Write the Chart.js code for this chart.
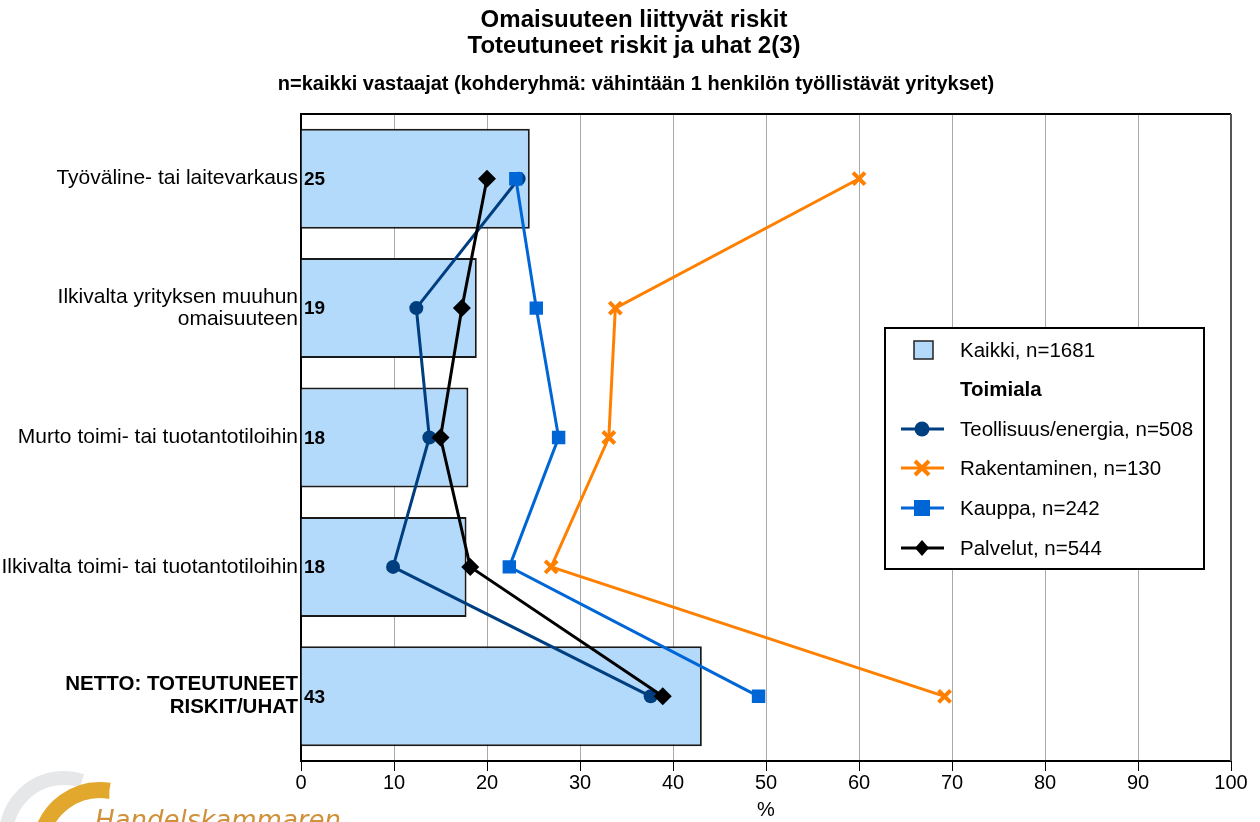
<!DOCTYPE html>
<html>
<head>
<meta charset="utf-8">
<script src="https://cdn.jsdelivr.net/npm/chart.js@4/dist/chart.umd.min.js"></script>
<style>
  html, body { margin: 0; padding: 0; background: #fff; }
  #wrap { width: 1260px; height: 822px; }
</style>
</head>
<body>
<div id="wrap"><canvas id="riskChart" width="1260" height="822"></canvas></div>
<script>
const titleLines = ["Omaisuuteen liittyvät riskit", "Toteutuneet riskit ja uhat 2(3)"];
const subtitleText = "n=kaikki vastaajat (kohderyhmä: vähintään 1 henkilön työllistävät yritykset)";

const categories = [
  "Työväline- tai laitevarkaus",
  ["Ilkivalta yrityksen muuhun", "omaisuuteen"],
  "Murto toimi- tai tuotantotiloihin",
  "Ilkivalta toimi- tai tuotantotiloihin",
  ["NETTO: TOTEUTUNEET", "RISKIT/UHAT"]
];

const kaikki = [24.6, 18.9, 18.0, 17.8, 43.1];
const teollisuus = [23.4, 12.4, 13.8, 9.9, 37.6];
const rakentaminen = [60.0, 33.8, 33.1, 26.9, 69.2];
const kauppa = [23.1, 25.3, 27.7, 22.4, 49.2];
const palvelut = [20.0, 17.3, 15.0, 18.2, 38.9];

const xTicks = [0, 10, 20, 30, 40, 50, 60, 70, 80, 90, 100];

const colors = {
  bar: "#b3d9fb",
  teollisuus: "#003f7f",
  rakentaminen: "#ff8000",
  kauppa: "#0066d6",
  palvelut: "#000000"
};

const legendItems = [
  { label: "Kaikki, n=1681", type: "box" },
  { label: "Toimiala", type: "heading" },
  { label: "Teollisuus/energia, n=508", type: "circle", color: colors.teollisuus },
  { label: "Rakentaminen, n=130", type: "cross", color: colors.rakentaminen },
  { label: "Kauppa, n=242", type: "square", color: colors.kauppa },
  { label: "Palvelut, n=544", type: "diamond", color: colors.palvelut }
];

const FONT = "'Liberation Sans', Arial, sans-serif";
Chart.defaults.font.family = FONT;
Chart.defaults.color = "#000";

function drawMarker(ctx, type, color, x, y) {
  ctx.save();
  ctx.fillStyle = color;
  ctx.strokeStyle = color;
  if (type === "circle") {
    ctx.beginPath();
    ctx.arc(x, y, 7.5, 0, Math.PI * 2);
    ctx.fill();
  } else if (type === "cross") {
    ctx.lineWidth = 4;
    ctx.beginPath();
    ctx.moveTo(x - 7, y - 7); ctx.lineTo(x + 7, y + 7);
    ctx.moveTo(x + 7, y - 7); ctx.lineTo(x - 7, y + 7);
    ctx.stroke();
  } else if (type === "square") {
    ctx.fillRect(x - 8, y - 8, 16, 16);
  } else if (type === "diamond") {
    ctx.beginPath();
    ctx.moveTo(x, y - 8); ctx.lineTo(x + 7, y);
    ctx.lineTo(x, y + 8); ctx.lineTo(x - 7, y);
    ctx.closePath();
    ctx.fill();
  }
  ctx.restore();
}

const extrasPlugin = {
  id: "extras",
  afterDatasetsDraw(chart) {
    const ctx = chart.ctx;
    const area = chart.chartArea;
    const xScale = chart.scales.x;
    const yScale = chart.scales.y;

    // frame top + right
    ctx.save();
    ctx.strokeStyle = "#000";
    ctx.lineWidth = 2;
    ctx.beginPath();
    ctx.moveTo(area.left, area.top);
    ctx.lineTo(area.right, area.top);
    ctx.stroke();
    ctx.strokeStyle = "#555";
    ctx.beginPath();
    ctx.moveTo(area.right, area.top);
    ctx.lineTo(area.right, area.bottom);
    ctx.stroke();
    ctx.restore();

    // bar value labels
    ctx.save();
    ctx.font = "bold 19px " + FONT;
    ctx.fillStyle = "#000";
    ctx.textAlign = "left";
    ctx.textBaseline = "middle";
    kaikki.forEach((v, i) => {
      ctx.fillText(String(Math.round(v)), xScale.getPixelForValue(0) + 3, yScale.getPixelForValue(i) + 1);
    });
    ctx.restore();
  },
  afterDraw(chart) {
    const ctx = chart.ctx;

    // titles
    ctx.save();
    ctx.fillStyle = "#000";
    ctx.textAlign = "center";
    ctx.textBaseline = "middle";
    ctx.font = "bold 24px " + FONT;
    ctx.fillText(titleLines[0], 634, 20);
    ctx.fillText(titleLines[1], 634, 46);
    ctx.font = "bold 20px " + FONT;
    ctx.fillText(subtitleText, 636, 84);
    ctx.restore();

    // legend box
    const lx = 885, ly = 328, lw = 319, lh = 241;
    ctx.save();
    ctx.fillStyle = "#fff";
    ctx.fillRect(lx, ly, lw, lh);
    ctx.strokeStyle = "#000";
    ctx.lineWidth = 2;
    ctx.strokeRect(lx, ly, lw, lh);

    const rows = [350, 389, 429, 468, 508, 548];
    ctx.textBaseline = "middle";
    ctx.textAlign = "left";
    legendItems.forEach((item, i) => {
      const y = rows[i];
      ctx.font = (item.type === "heading" ? "bold " : "") + "20.5px " + FONT;
      ctx.fillStyle = "#000";
      ctx.fillText(item.label, 960, y + 1);
      if (item.type === "box") {
        ctx.fillStyle = colors.bar;
        ctx.fillRect(914, y - 9, 19, 18);
        ctx.strokeStyle = "#222";
        ctx.lineWidth = 1.5;
        ctx.strokeRect(914, y - 9, 19, 18);
      } else if (item.type !== "heading") {
        ctx.strokeStyle = item.color;
        ctx.lineWidth = 3;
        ctx.beginPath();
        ctx.moveTo(901, y);
        ctx.lineTo(944, y);
        ctx.stroke();
        drawMarker(ctx, item.type, item.color, 922, y);
      }
    });
    ctx.restore();

    // logo
    ctx.save();
    ctx.lineWidth = 14;
    ctx.strokeStyle = "#e6e7e9";
    ctx.beginPath();
    ctx.arc(64, 836, 58, Math.PI * 1.0, Math.PI * 1.6);
    ctx.stroke();
    ctx.strokeStyle = "#e2a82e";
    ctx.lineWidth = 16;
    ctx.beginPath();
    ctx.arc(100, 850, 60, Math.PI * 1.05, Math.PI * 1.55);
    ctx.stroke();
    ctx.fillStyle = "#d0913a";
    ctx.font = "italic 26px 'DejaVu Sans', sans-serif";
    ctx.textBaseline = "alphabetic";
    ctx.fillText("Handelskammaren", 95, 829);
    ctx.restore();
  }
};

const ctx = document.getElementById("riskChart");

new Chart(ctx, {
  type: "bar",
  data: {
    labels: categories,
    datasets: [
      {
        type: "line",
        label: "Palvelut, n=544",
        data: palvelut,
        borderColor: colors.palvelut,
        backgroundColor: colors.palvelut,
        borderWidth: 3,
        pointStyle: "rectRot",
        pointRadius: 9,
        pointBorderWidth: 0,
        tension: 0
      },
      {
        type: "line",
        label: "Kauppa, n=242",
        data: kauppa,
        borderColor: colors.kauppa,
        backgroundColor: colors.kauppa,
        borderWidth: 3,
        pointStyle: "rect",
        pointRadius: 9.5,
        pointBorderWidth: 0,
        tension: 0
      },
      {
        type: "line",
        label: "Rakentaminen, n=130",
        data: rakentaminen,
        borderColor: colors.rakentaminen,
        backgroundColor: colors.rakentaminen,
        borderWidth: 3,
        pointStyle: "crossRot",
        pointRadius: 8.5,
        pointBorderWidth: 4,
        tension: 0
      },
      {
        type: "line",
        label: "Teollisuus/energia, n=508",
        data: teollisuus,
        borderColor: colors.teollisuus,
        backgroundColor: colors.teollisuus,
        borderWidth: 3,
        pointStyle: "circle",
        pointRadius: 7,
        pointBorderWidth: 0,
        tension: 0
      },
      {
        label: "Kaikki, n=1681",
        data: kaikki,
        backgroundColor: colors.bar,
        borderColor: "#1a1a1a",
        borderWidth: 2,
        categoryPercentage: 1,
        barPercentage: 0.773
      }
    ]
  },
  options: {
    indexAxis: "y",
    responsive: false,
    animation: false,
    layout: {
      padding: { left: 0, right: 29, top: 114, bottom: 0 }
    },
    plugins: {
      legend: { display: false },
      tooltip: { enabled: false },
      title: { display: false }
    },
    scales: {
      x: {
        min: 0,
        max: 100,
        afterBuildTicks(scale) {
          scale.ticks = xTicks.map(v => ({ value: v }));
        },
        afterFit(scale) {
          scale.height = 61;
        },
        ticks: {
          font: { size: 20 },
          color: "#000",
          padding: 0
        },
        grid: {
          color: "#aaaaaa",
          lineWidth: 1,
          tickColor: "#000",
          tickLength: 10
        },
        border: { color: "#000", width: 2 },
        title: {
          display: true,
          text: "%",
          font: { size: 20 },
          color: "#000",
          padding: { top: 0, bottom: 0 }
        }
      },
      y: {
        afterFit(scale) {
          scale.width = 301;
        },
        ticks: {
          color: "#000",
          padding: 3,
          font(context) {
            if (context.index === categories.length - 1) {
              return { size: 20.5, weight: "bold", lineHeight: 1.12 };
            }
            return { size: 21, lineHeight: 1.05 };
          }
        },
        grid: { display: false, drawTicks: false },
        border: { color: "#000", width: 2 }
      }
    }
  },
  plugins: [extrasPlugin]
});
</script>
</body>
</html>
